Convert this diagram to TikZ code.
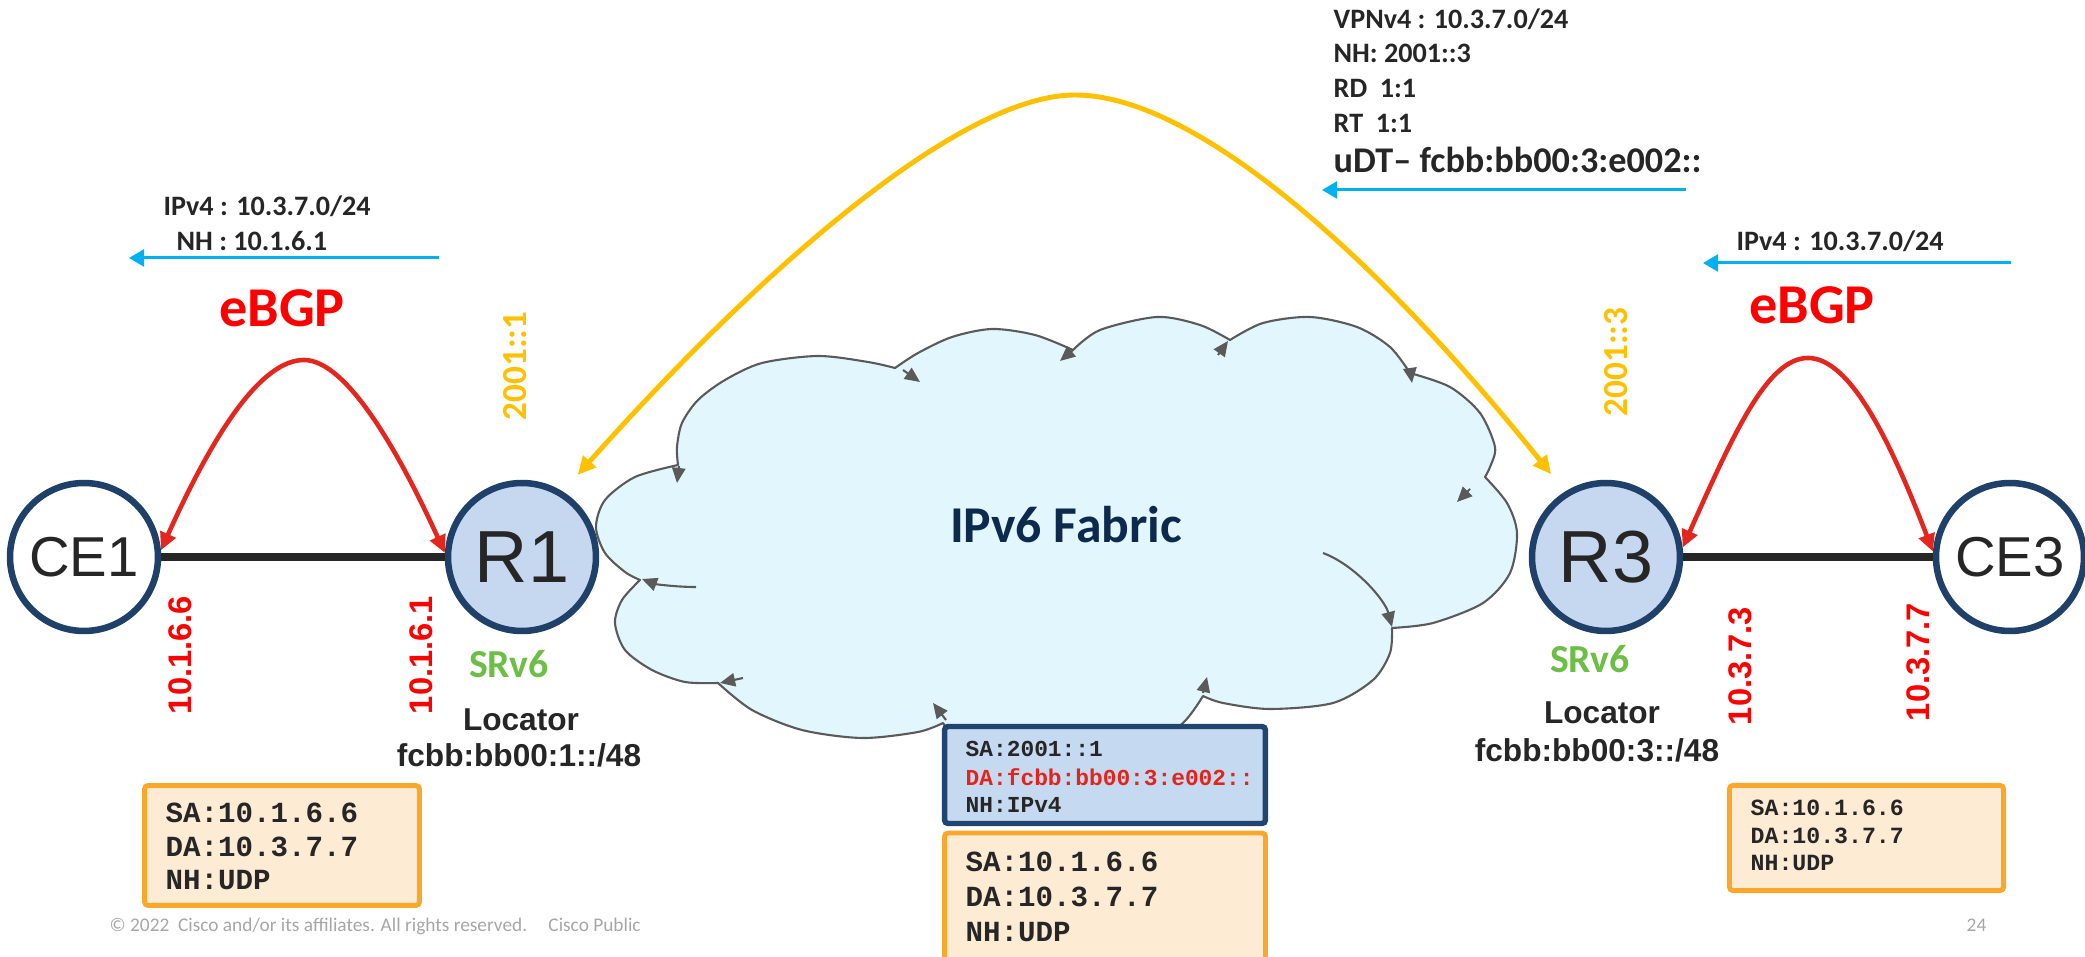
\documentclass[tikz,border=0pt]{standalone}
\usepackage{fontspec}
\usetikzlibrary{arrows.meta}
\newfontfamily\carl{Carlito}
\newfontfamily\arialf{Liberation Sans}
\newfontfamily\monof{Liberation Mono}

\definecolor{navyc}{HTML}{1F4068}
\definecolor{pefill}{HTML}{C5D8EF}
\definecolor{darktxt}{HTML}{262626}
\definecolor{linkc}{HTML}{262626}
\definecolor{arcred}{HTML}{E3261E}
\definecolor{pured}{HTML}{FF0000}
\definecolor{goldc}{HTML}{FFC000}
\definecolor{skyc}{HTML}{00B0F0}
\definecolor{cloudfill}{HTML}{E2F7FD}
\definecolor{cloudline}{HTML}{5A5A5A}
\definecolor{fabricc}{HTML}{0D2A4E}
\definecolor{srgreen}{HTML}{6CBE45}
\definecolor{oborder}{HTML}{F9A82B}
\definecolor{ofill}{HTML}{FDEBD3}
\definecolor{bfill}{HTML}{C5D9F0}
\definecolor{bborder}{HTML}{1F4570}
\definecolor{dared}{HTML}{E3241B}
\definecolor{footc}{HTML}{A6A6A6}

\tikzset{
  cenode/.style={circle, draw=navyc, line width=1.85pt, fill=white, minimum size=42.1pt,
    inner sep=0pt, text=darktxt, font=\arialf\fontsize{16}{16}\selectfont},
  penode/.style={cenode, fill=pefill, font=\arialf\fontsize{21}{21}\selectfont},
  link/.style={draw=linkc, line width=2pt},
  bgparc/.style={draw=arcred, line width=1.3pt,
    arrows={Triangle[length=5pt,width=4.6pt]-Triangle[length=5pt,width=4.6pt]}},
  vpnarc/.style={draw=goldc, line width=1.4pt, shorten <=6.3pt, shorten >=6.3pt,
    arrows={Triangle[length=5.2pt,width=4.8pt]-Triangle[length=5.2pt,width=4.8pt]}},
  advert/.style={draw=skyc, line width=0.85pt, -{Triangle[length=4.3pt,width=4.8pt]}},
  cloudtip/.style={draw=cloudline, line width=0.6pt, -{Triangle[length=4.3pt,width=3.8pt]}},
  bgptxt/.style={anchor=base west, text=darktxt, inner sep=0pt, font=\carl\bfseries\fontsize{8}{9}\selectfont},
  ebgp/.style={anchor=base, text=pured, inner sep=0pt, font=\carl\bfseries\fontsize{16}{18}\selectfont},
  sidaddr/.style={rotate=90, text=goldc, inner sep=0pt, font=\carl\bfseries\fontsize{10}{12}\selectfont},
  ifaddr/.style={rotate=90, text=pured, inner sep=0pt, font=\arialf\bfseries\fontsize{9.3}{11}\selectfont},
  srv/.style={text=srgreen, inner sep=0pt, font=\carl\bfseries\fontsize{11.3}{13}\selectfont},
  loctxt/.style={anchor=base, text=darktxt, inner sep=0pt, font=\arialf\bfseries\fontsize{9}{11}\selectfont},
  obox/.style={rectangle, rounded corners=1pt, draw=oborder, fill=ofill, line width=1.4pt, inner sep=0pt},
  bbox/.style={rectangle, rounded corners=1pt, draw=bborder, fill=bfill, line width=1.55pt, inner sep=0pt},
  hdrbig/.style={anchor=base west, text=darktxt, inner sep=0pt, font=\monof\bfseries\fontsize{8.3}{10}\selectfont},
  hdrsmall/.style={anchor=base west, text=darktxt, inner sep=0pt, font=\monof\bfseries\fontsize{6.5}{8}\selectfont},
  foot/.style={anchor=base west, text=footc, inner sep=0pt, font=\carl\fontsize{5.5}{6.5}\selectfont}
}

\begin{document}
\begin{tikzpicture}[x=0.2845pt,y=0.2845pt]
\useasboundingbox (0,0) rectangle (2085,957);
\clip (0,0) rectangle (2085,957);

% ---------- IPv6 fabric cloud ----------
\path[fill=cloudfill, draw=cloudline, line width=0.6pt, line join=round]
  plot[smooth] coordinates {(678,492) (677,510) (682,534) (698,557) (725,577) (762,594) (818,601) (868,595) (895,589)}
  -- plot[smooth] coordinates {(895,589) (918,604) (952,620) (992,628) (1035,622) (1073,607)}
  -- plot[smooth] coordinates {(1073,607) (1100,627) (1157,640) (1200,632) (1230,617)}
  -- plot[smooth] coordinates {(1230,617) (1263,634) (1310,640) (1357,630) (1390,610) (1410,584)}
  -- plot[smooth] coordinates {(1410,584) (1450,570) (1480,544) (1495,510) (1490,490) (1485,480)}
  -- plot[smooth] coordinates {(1485,480) (1507,454) (1517,424) (1510,384) (1483,354) (1433,334) (1392,329)}
  -- plot[smooth] coordinates {(1392,329) (1390,304) (1373,277) (1333,254) (1270,248) (1223,254) (1203,261)}
  -- plot[smooth] coordinates {(1203,261) (1183,234) (1140,202) (1070,189) (1000,197) (955,222) (943,234)}
  -- plot[smooth] coordinates {(943,234) (918,225) (862,219) (802,227) (752,247) (718,274)}
  -- plot[smooth] coordinates {(718,274) (685,275) (652,287) (625,307) (615,334) (622,357) (640,377)}
  -- plot[smooth] coordinates {(640,377) (625,385) (605,404) (596,430) (605,457) (635,480) (678,492)}
  -- cycle;

% arrowheads along the cloud outline
\draw[cloudtip] (903,587) -- (920,575);
\draw[cloudtip] (1073,607) -- (1060,596);
\draw[cloudtip] (679,491) -- (677,474);
\draw[cloudtip] (743,279) -- (720,274);
\draw[cloudtip] (946,237) -- (933,254);
\draw[cloudtip] (1218,602) -- (1228,616);
\draw[cloudtip] (1410,588) -- (1412,574);
\draw[cloudtip] (1470,468) -- (1457,455);
\draw[cloudtip] (1203,264) -- (1207,280);
\draw[cloudtip] (696,370) .. controls (675,370) and (655,373) .. (642,378);
\draw[cloudtip] (1323,404) .. controls (1355,392) and (1385,357) .. (1392,330);

\node[text=fabricc, anchor=base, inner sep=0pt, font=\carl\bfseries\fontsize{14.7}{17}\selectfont]
  (fabric) at (1066,414) {IPv6 Fabric};

% ---------- routers and CEs ----------
\node[cenode] (CE1) at (84,400) {CE1};
\node[penode] (R1) at (522,400) {R1};
\node[penode] (R3) at (1606,400) {R3};
\node[cenode] (CE3) at (2010,400) {CE3};

\draw[link] (CE1.east) -- (R1.west);
\draw[link] (R3.east) -- (CE3.west);

% eBGP sessions
\draw[bgparc] (CE1.5) .. controls (215,527) and (262,597) .. (304,597)
                      .. controls (346,597) and (398,507) .. (R1.177);
\draw[bgparc] (R3.7) .. controls (1735,527) and (1768,599) .. (1808,599)
                     .. controls (1850,599) and (1890,517) .. (CE3.176);
\node[ebgp] (ebgpL) at (282,630) {eBGP};
\node[ebgp] (ebgpR) at (1812,633) {eBGP};

% VPNv4 session between the PEs
\draw[vpnarc] (R1.58) .. controls (760,687) and (960,862) .. (1075,862)
                      .. controls (1195,862) and (1375,702) .. (R3.122);

% ---------- route advertisements ----------
\coordinate (advLs) at (439,699);
\coordinate (advLe) at (129,699);
\draw[advert] (advLs) -- (advLe);
\node[bgptxt] (ipv4L) at (163,741) {IPv4 : 10.3.7.0/24};
\node[bgptxt] (nhL) at (176,706) {NH : 10.1.6.1};

\coordinate (advTs) at (1686,767);
\coordinate (advTe) at (1322,767);
\draw[advert] (advTs) -- (advTe);
\node[bgptxt] (vpnv4) at (1333,928) {VPNv4 : 10.3.7.0/24};
\node[bgptxt] (nhT) at (1333,894) {NH: 2001::3};
\node[bgptxt] (rdT) at (1333,859) {RD\ \ 1:1};
\node[bgptxt] (rtT) at (1333,824) {RT\ \ 1:1};
\node[bgptxt, font=\carl\bfseries\fontsize{10.3}{12}\selectfont] (udt) at (1333,784) {uDT– fcbb:bb00:3:e002::};

\coordinate (advRs) at (2011,694);
\coordinate (advRe) at (1703,694);
\draw[advert] (advRs) -- (advRe);
\node[bgptxt] (ipv4R) at (1736,706) {IPv4 : 10.3.7.0/24};

% ---------- addresses ----------
\node[sidaddr] (sid1) at (515,591) {2001::1};
\node[sidaddr] (sid3) at (1616,595) {2001::3};
\node[ifaddr] (if16) at (180,302) {10.1.6.6};
\node[ifaddr] (if11) at (421,302) {10.1.6.1};
\node[ifaddr] (if73) at (1740,291) {10.3.7.3};
\node[ifaddr] (if77) at (1918,295) {10.3.7.7};

\node[srv] (srvL) at (509,293) {SRv6};
\node[srv] (srvR) at (1590,298) {SRv6};
\node[loctxt] (locL) at (521,226) {Locator};
\node[loctxt] (locLp) at (519,190) {fcbb:bb00:1::/48};
\node[loctxt] (locR) at (1602,233) {Locator};
\node[loctxt] (locRp) at (1597,195) {fcbb:bb00:3::/48};

% ---------- packet headers ----------
\node[obox, minimum width=78.2pt, minimum height=34.1pt] (pktL) at (282,111.5) {};
\node[hdrbig] (pktL1) at (165,134) {SA:10.1.6.6};
\node[hdrbig] (pktL2) at (165,100) {DA:10.3.7.7};
\node[hdrbig] (pktL3) at (165,67) {NH:UDP};

\node[bbox, minimum width=91.3pt, minimum height=27.6pt] (outerH) at (1105,182) {};
\node[hdrsmall] (outer1) at (965,200) {SA:2001::1};
\node[hdrsmall, text=dared] (outer2) at (965,171) {DA:fcbb:bb00:3:e002::};
\node[hdrsmall] (outer3) at (965,144) {NH:IPv4};

\node[obox, minimum width=91.3pt, minimum height=38.1pt] (innerH) at (1105,57) {};
\node[hdrbig] (inner1) at (965,85) {SA:10.1.6.6};
\node[hdrbig] (inner2) at (965,50) {DA:10.3.7.7};
\node[hdrbig] (inner3) at (965,15) {NH:UDP};

\node[obox, minimum width=78pt, minimum height=29.9pt] (pktR) at (1866.5,119) {};
\node[hdrsmall, font=\monof\bfseries\fontsize{6.6}{8}\selectfont] (pktR1) at (1750,141) {SA:10.1.6.6};
\node[hdrsmall, font=\monof\bfseries\fontsize{6.6}{8}\selectfont] (pktR2) at (1750,113) {DA:10.3.7.7};
\node[hdrsmall, font=\monof\bfseries\fontsize{6.6}{8}\selectfont] (pktR3) at (1750,86) {NH:UDP};

% ---------- footer ----------
\node[foot] (copy) at (109,25) {© 2022\ \ Cisco and/or its affiliates. All rights reserved.\hspace{1.1em}Cisco Public};
\node[foot] (pageno) at (1966,25) {24};
\end{tikzpicture}
\end{document}
